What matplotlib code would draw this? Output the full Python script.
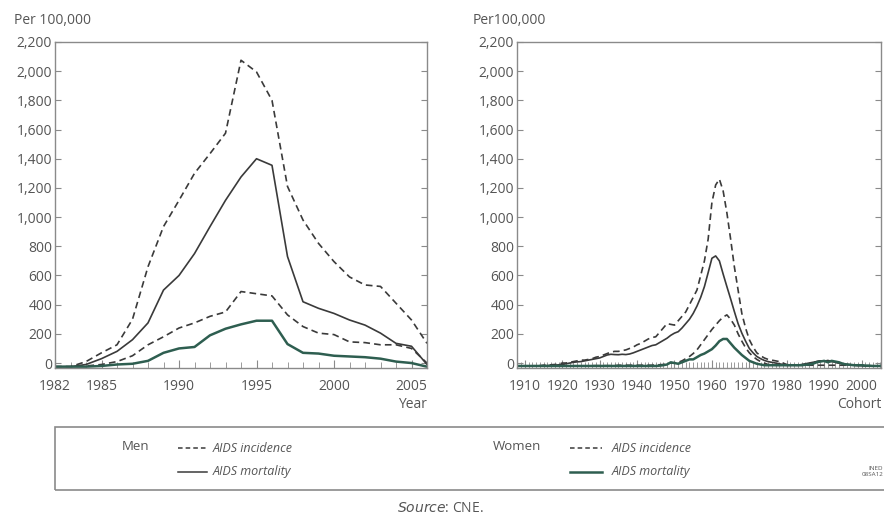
import numpy as np
import matplotlib
matplotlib.use("Agg")
import matplotlib.pyplot as plt
from matplotlib.lines import Line2D
from matplotlib.patches import Rectangle
from matplotlib.ticker import FuncFormatter, MultipleLocator

plt.rcParams['font.family'] = ['Open Sans', 'DejaVu Sans']

# period view, by year
years = list(range(1982, 2007))
men_inc_year = [-25, -25, 10, 70, 125, 300, 660, 935, 1115, 1300, 1435, 1575, 2075,
                1995, 1800, 1210, 980, 820, 695, 590, 535, 525, 410, 295, 135]
men_mort_year = [-25, -25, -10, 30, 80, 160, 275, 500, 600, 750, 935, 1115, 1275,
                 1400, 1355, 730, 420, 375, 340, 295, 260, 205, 135, 115, -10]
women_inc_year = [-25, -25, -20, -10, 10, 50, 125, 180, 240, 275, 320, 350, 490,
                  475, 460, 330, 250, 205, 195, 145, 140, 125, 125, 100, 0]
women_mort_year = [-25, -25, -25, -20, -10, -5, 15, 70, 100, 110, 190, 235, 265,
                   290, 290, 130, 70, 65, 50, 45, 40, 30, 10, 0, -25]

# cohort view, by year of birth
cohorts = list(range(1908, 2006))
men_inc_coh = [
    -20, -20,
    -20, -20, -20, -18, -18, -15, -15, -12, -10, -8,
    0, 0, 5, 10, 15, 20, 20, 25, 30, 40,
    45, 55, 65, 75, 80, 80, 85, 90, 100, 110,
    125, 135, 150, 165, 175, 180, 210, 240, 270, 265,
    260, 290, 320, 350, 400, 450, 500, 600, 700, 850,
    1100, 1220, 1260, 1180, 1030, 850, 660, 500, 340, 240,
    160, 110, 70, 50, 35, 25, 20, 15, 10, 0,
    -10, -15, -15, -15, -10, -10, -5, 0, 10, 15,
    10, 15, 10, 5, 0, -5, -10, -12, -15, -15,
    -15, -18, -18, -20, -20, -20]
men_mort_coh = [
    -20, -20,
    -20, -20, -20, -20, -20, -18, -18, -15, -15, -12,
    -10, -5, 0, 5, 8, 10, 15, 20, 25, 30,
    35, 45, 55, 60, 58, 57, 60, 58, 62, 70,
    80, 90, 100, 110, 120, 125, 140, 155, 170, 190,
    205, 215, 240, 270, 300, 340, 390, 450, 524, 620,
    718, 734, 700, 610, 524, 440, 353, 270, 205, 150,
    100, 70, 45, 30, 18, 10, 5, 0, -5, -10,
    -15, -15, -15, -15, -10, -5, 0, 5, 10, 15,
    12, 18, 10, 5, 0, -5, -10, -12, -15, -18,
    -18, -20, -20, -20, -20, -20]
women_inc_coh = [
    -20, -20,
    -20, -20, -20, -20, -20, -20, -20, -20, -20, -20,
    -20, -20, -20, -20, -20, -20, -20, -20, -18, -18,
    -18, -18, -18, -18, -18, -15, -15, -15, -15, -15,
    -15, -15, -15, -15, -15, -12, -12, -10, -5, 0,
    0, 5, 15, 30, 45, 65, 90, 125, 160, 195,
    230, 260, 290, 315, 330, 300, 260, 200, 150, 105,
    70, 45, 25, 10, 0, -10, -12, -15, -15, -15,
    -15, -15, -15, -15, -15, -15, -15, -15, -15, -15,
    -15, -15, -15, -15, -15, -15, -15, -15, -15, -15,
    -15, -18, -18, -20, -20, -20]
women_mort_coh = [
    -20, -20,
    -20, -20, -20, -20, -20, -20, -20, -20, -20, -20,
    -20, -20, -20, -20, -20, -20, -20, -20, -20, -20,
    -20, -20, -20, -20, -20, -20, -20, -20, -20, -20,
    -20, -20, -20, -20, -20, -20, -18, -15, -10, 5,
    0, -5, 5, 15, 25, 25, 40, 55, 65, 80,
    95, 120, 150, 165, 165, 135, 105, 80, 55, 35,
    15, 5, -5, -10, -15, -15, -15, -15, -15, -15,
    -15, -15, -15, -15, -15, -12, -10, -5, 5, 10,
    15, 5, 15, 10, 5, -5, -10, -12, -15, -15,
    -15, -18, -18, -20, -20, -20]

W, H = 884, 516
dark = '#3a3a3a'
green = '#2e5e50'
txt = '#555555'
spine = '#8a8a8a'

fig = plt.figure(figsize=(W / 100, H / 100), dpi=100)
fig.patch.set_facecolor('white')


def px(x, y):
    return x / W, 1 - y / H


fmt = FuncFormatter(lambda v, p: '{:,.0f}'.format(v))


def style(ax):
    ax.set_ylim(-34, 2200)
    ax.yaxis.set_major_locator(MultipleLocator(200))
    ax.yaxis.set_major_formatter(fmt)
    for s in ax.spines.values():
        s.set_color(spine)
        s.set_linewidth(1.0)
    ax.tick_params(axis='y', direction='in', length=4, width=0.8, color=spine,
                   labelsize=10, labelcolor=txt, right=True, pad=2)
    ax.tick_params(axis='x', which='major', direction='in', length=6, width=0.8,
                   color=spine, labelsize=10, labelcolor=txt, pad=8)
    ax.tick_params(axis='x', which='minor', direction='in', length=4, width=0.6,
                   color=spine)


# left panel
ax1 = fig.add_axes([55 / W, (H - 368) / H, 372 / W, 326 / H])
ax1.plot(years, men_inc_year, color=dark, lw=1.2, ls=(0, (4, 2.5)))
ax1.plot(years, men_mort_year, color=dark, lw=1.2)
ax1.plot(years, women_inc_year, color=dark, lw=1.2, ls=(0, (4, 2.5)))
ax1.plot(years, women_mort_year, color=green, lw=1.8)
ax1.set_xlim(1982, 2006)
ax1.set_xticks([1982, 1985, 1990, 1995, 2000, 2005])
ax1.xaxis.set_minor_locator(MultipleLocator(1))
style(ax1)

# right panel
ax2 = fig.add_axes([517 / W, (H - 368) / H, 364 / W, 326 / H])
ax2.plot(cohorts, men_inc_coh, color=dark, lw=1.2, ls=(0, (4, 2.5)))
ax2.plot(cohorts, men_mort_coh, color=dark, lw=1.2)
ax2.plot(cohorts, women_inc_coh, color=dark, lw=1.2, ls=(0, (4, 2.5)))
ax2.plot(cohorts, women_mort_coh, color=green, lw=1.8)
ax2.set_xlim(1907.9, 2005.2)
ax2.set_xticks(list(range(1910, 2001, 10)))
ax2.xaxis.set_minor_locator(MultipleLocator(1))
style(ax2)

# axis captions
fig.text(*px(14, 20), 'Per 100,000', fontsize=10, color=txt, va='center')
fig.text(*px(473, 20), 'Per100,000', fontsize=10, color=txt, va='center')
fig.text(*px(427, 405), 'Year', fontsize=10, color=txt, va='center', ha='right')
fig.text(*px(882, 405), 'Cohort', fontsize=10, color=txt, va='center', ha='right')

# legend box
x0, y0 = px(55, 490)
x1, y1 = px(900, 427)
fig.add_artist(Rectangle((x0, y0), x1 - x0, y1 - y0, transform=fig.transFigure,
                         fill=False, edgecolor=spine, lw=1.2))


def sample(xa, xb, y, **kw):
    (a, yy), (b, _) = px(xa, y), px(xb, y)
    fig.add_artist(Line2D([a, b], [yy, yy], transform=fig.transFigure, **kw))


fig.text(*px(122, 447), 'Men', fontsize=9.5, color=txt, va='center')
sample(178, 207, 448, color=dark, lw=1.1, ls=(0, (3, 2)))
fig.text(*px(213, 448), 'AIDS incidence', fontsize=9, color=txt, va='center', style='italic')
sample(178, 207, 472, color=dark, lw=1.1)
fig.text(*px(213, 472), 'AIDS mortality', fontsize=9, color=txt, va='center', style='italic')

fig.text(*px(493, 446), 'Women', fontsize=9.5, color=txt, va='center')
sample(570, 602, 448, color=dark, lw=1.1, ls=(0, (3, 2)))
fig.text(*px(612, 448), 'AIDS incidence', fontsize=9, color=txt, va='center', style='italic')
sample(570, 602, 472, color=green, lw=1.8)
fig.text(*px(612, 472), 'AIDS mortality', fontsize=9, color=txt, va='center', style='italic')

fig.text(*px(868, 468), 'INED', fontsize=4.5, color=txt, va='center')
fig.text(*px(862, 475), '08SA12', fontsize=4.5, color=txt, va='center')

# source
sx, sy = px(440, 508)
fig.text(sx, sy, r'$\it{Source}$: CNE.', fontsize=10, color=txt, ha='center', va='center')

fig.savefig('out.png', dpi=100)
